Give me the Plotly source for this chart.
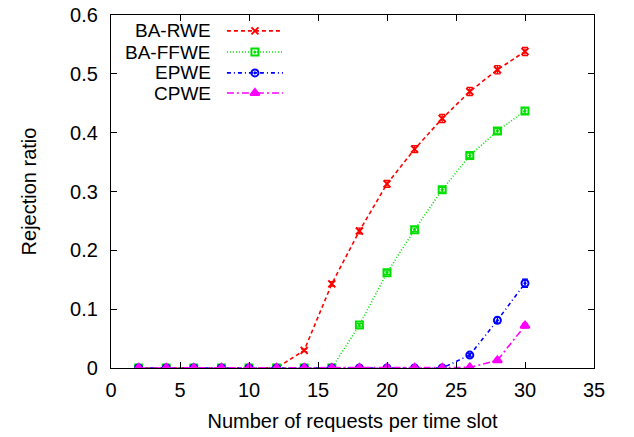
import plotly.graph_objects as go

x = [2, 4, 6, 8, 10, 12, 14, 16, 18, 20, 22, 24, 26, 28, 30]
ba_rwe = [0, 0, 0, 0, 0, 0, 0.030, 0.143, 0.233, 0.313, 0.372, 0.424, 0.470, 0.507, 0.538]
ba_rwe_err = [0, 0, 0, 0, 0, 0, 0.002, 0.004, 0.005, 0.006, 0.006, 0.007, 0.007, 0.007, 0.007]
ba_ffwe = [0, 0, 0, 0, 0, 0, 0, 0, 0.073, 0.162, 0.235, 0.303, 0.361, 0.403, 0.437]
ba_ffwe_err = [0, 0, 0, 0, 0, 0, 0, 0, 0.003, 0.003, 0.003, 0.004, 0.004, 0.004, 0.005]
epwe = [0, 0, 0, 0, 0, 0, 0, 0, 0, 0, 0, 0, 0.022, 0.081, 0.144]
epwe_err = [0, 0, 0, 0, 0, 0, 0, 0, 0, 0, 0, 0, 0.003, 0.005, 0.007]
cpwe = [0, 0, 0, 0, 0, 0, 0, 0, 0, 0, 0, 0, 0.001, 0.013, 0.072]
cpwe_err = [0, 0, 0, 0, 0, 0, 0, 0, 0, 0, 0, 0, 0.001, 0.002, 0.004]

names = ["BA-RWE", "BA-FFWE", "EPWE", "CPWE"]
series = [ba_rwe, ba_ffwe, epwe, cpwe]
errs = [ba_rwe_err, ba_ffwe_err, epwe_err, cpwe_err]
colors = ["#ff0000", "#00e000", "#0000ff", "#ff00ff"]
dashes = ["4px,3px", "1px,2px", "4px,3px,1px,3px", "7px,3px,2px,3px"]
symbols = ["x-thin", "square-open-dot", "circle-open-dot", "triangle-up"]
msizes = [7, 7, 7, 8]

FONT = "Liberation Sans, Arial, Helvetica, sans-serif"

fig = go.Figure()
for n, s, e, c, d, sym, ms in zip(names, series, errs, colors, dashes, symbols, msizes):
    fig.add_trace(go.Scatter(
        x=x, y=s, name=n, mode="lines+markers",
        line=dict(color=c, width=1.6, dash=d),
        marker=dict(symbol=sym, size=ms, color=c, line=dict(color=c, width=2)),
        error_y=dict(type="data", array=e, visible=True, color=c, thickness=1.2, width=3),
        showlegend=False,
    ))

# custom gnuplot-style legend (text right-aligned, sample to the right)
rows = [0.955, 0.895, 0.836, 0.779]
for n, c, d, sym, ms, ry in zip(names, colors, dashes, symbols, msizes, rows):
    fig.add_trace(go.Scatter(
        x=[0.240, 0.356], y=[ry, ry], mode="lines", xaxis="x2", yaxis="y2",
        line=dict(color=c, width=1.6, dash=d), showlegend=False, hoverinfo="skip"))
    fig.add_trace(go.Scatter(
        x=[0.298], y=[ry], mode="markers", xaxis="x2", yaxis="y2",
        marker=dict(symbol=sym, size=ms, color=c, line=dict(color=c, width=2)),
        showlegend=False, hoverinfo="skip"))
    fig.add_annotation(x=0.211, y=ry, xref="paper", yref="paper", text=n,
                       showarrow=False, xanchor="right", yanchor="middle",
                       font=dict(family=FONT, size=19, color="black"))

axis_common = dict(
    showline=True, linecolor="black", linewidth=1.2, mirror="ticks",
    ticks="inside", ticklen=6, tickcolor="black", showgrid=False, zeroline=False,
    tickfont=dict(family=FONT, size=20, color="black"), automargin=False,
)

fig.update_layout(
    width=634, height=437,
    margin=dict(l=111, r=40, t=15, b=69),
    paper_bgcolor="white", plot_bgcolor="white",
    xaxis=dict(range=[0, 35], dtick=5, ticklabelstandoff=4,
               title=dict(text="Number of requests per time slot",
               font=dict(family=FONT, size=20, color="black"), standoff=13), **axis_common),
    yaxis=dict(range=[0, 0.6], dtick=0.1, ticklabelstandoff=8,
               title=dict(text="Rejection ratio", font=dict(family=FONT, size=20, color="black"), standoff=28),
               **axis_common),
    xaxis2=dict(overlaying="x", range=[0, 1], visible=False, domain=[0, 1]),
    yaxis2=dict(overlaying="y", range=[0, 1], visible=False, domain=[0, 1]),
)

fig.write_html("out.html")
